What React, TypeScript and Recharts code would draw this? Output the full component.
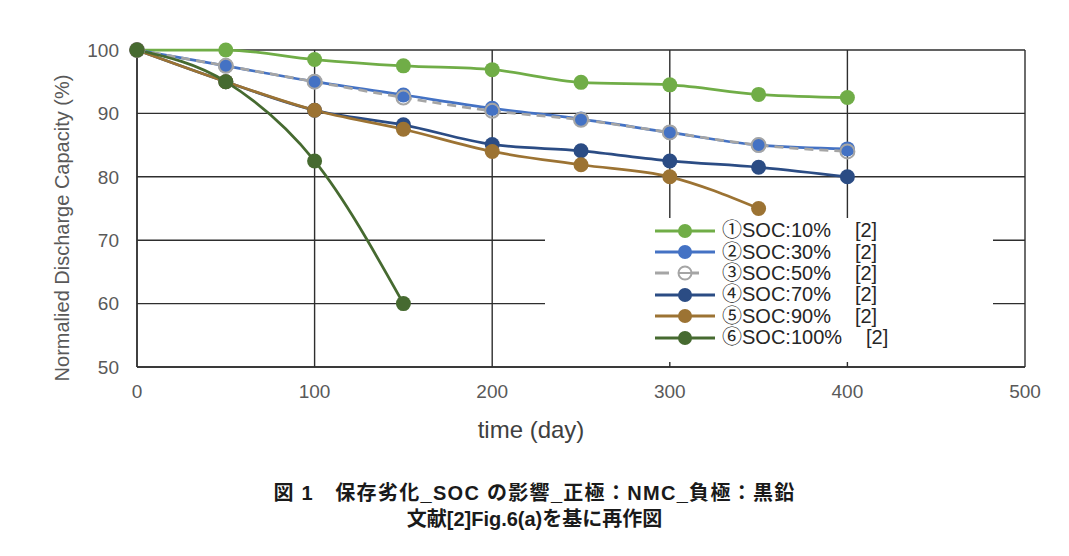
import React from "react";
import { LineChart, Line, XAxis, YAxis, CartesianGrid, Legend } from "recharts";

// days of measurement
const DAYS = [0, 50, 100, 150, 200, 250, 300, 350, 400];

// normalized discharge capacity (%) per SOC
const SOC10 = [100, 100, 98.5, 97.5, 96.9, 94.9, 94.5, 93.0, 92.5];
const SOC30 = [100, 97.5, 95.0, 92.9, 90.8, 89.1, 87.0, 85.0, 84.4];
const SOC50 = [100, 97.5, 95.0, 92.5, 90.4, 89.0, 87.0, 85.0, 84.0];
const SOC70 = [100, 95.0, 90.5, 88.2, 85.1, 84.1, 82.5, 81.5, 80.0];
const SOC90 = [100, 95.0, 90.5, 87.5, 84.0, 81.9, 80.0, 75.0];
const SOC100 = [100, 95.0, 82.5, 60.0];

const X_TICKS = [0, 100, 200, 300, 400, 500];
const Y_TICKS = [50, 60, 70, 80, 90, 100];

const SERIES = [
  { key: "s1", name: "①SOC:10%", values: SOC10, color: "#70ad47", dash: undefined, hollow: false },
  { key: "s2", name: "②SOC:30%", values: SOC30, color: "#4472c4", dash: undefined, hollow: false },
  { key: "s3", name: "③SOC:50%", values: SOC50, color: "#a5a5a5", dash: "9 6", hollow: true },
  { key: "s4", name: "④SOC:70%", values: SOC70, color: "#2b4c84", dash: undefined, hollow: false },
  { key: "s5", name: "⑤SOC:90%", values: SOC90, color: "#9c7333", dash: undefined, hollow: false },
  { key: "s6", name: "⑥SOC:100%", values: SOC100, color: "#466a30", dash: undefined, hollow: false },
];

const data = DAYS.map((d, i) => {
  const row: Record<string, number | undefined> = { day: d };
  SERIES.forEach((s) => { row[s.key] = s.values[i]; });
  return row;
});

const FONT = "'Liberation Sans', Arial, 'Noto Sans CJK JP', sans-serif";

function LegendBox() {
  return (
    <div style={{
      background: "#fff", width: 448, height: 144, boxSizing: "border-box",
      paddingLeft: 110, paddingTop: 2, fontFamily: FONT, fontSize: 20, color: "#262626",
    }}>
      {SERIES.map((s) => (
        <div key={s.key} style={{ display: "flex", alignItems: "center", height: 21.4 }}>
          <svg width={62} height={20} style={{ flexShrink: 0 }}>
            <line x1={0} y1={10} x2={60} y2={10} stroke={s.color} strokeWidth={3} strokeDasharray={s.dash ? "14 16" : undefined} />
            {s.hollow
              ? <circle cx={30} cy={10} r={6.5} fill="#fff" stroke={s.color} strokeWidth={2} />
              : <circle cx={30} cy={10} r={7} fill={s.color} />}
            {s.hollow && <line x1={24} y1={10} x2={36} y2={10} stroke={s.color} strokeWidth={2} />}
          </svg>
          <span style={{ marginLeft: 5, whiteSpace: "pre", lineHeight: "21px" }}>{s.name}</span>
          <span style={{ marginLeft: 24, lineHeight: "21px" }}>[2]</span>
        </div>
      ))}
    </div>
  );
}

export default function App() {
  return (
    <div style={{ position: "absolute", left: 0, top: 0, width: 1069, height: 556, background: "#fff", fontFamily: FONT }}>
      <LineChart width={1069} height={470} data={data} margin={{ top: 50, right: 44, left: 0, bottom: 0 }}>
        <CartesianGrid stroke="#2e2e2e" strokeWidth={1.4} />
        <XAxis
          dataKey="day" type="number" domain={[0, 500]} ticks={X_TICKS}
          height={103} tickSize={0} tickMargin={18}
          axisLine={{ stroke: "#2e2e2e", strokeWidth: 1.4 }}
          tick={{ fill: "#595959", fontSize: 19, fontFamily: FONT }}
          label={{
            content: () => (
              <text x={531} y={438} textAnchor="middle" fill="#404040" fontSize={24} fontFamily={FONT}>time (day)</text>
            ),
          }}
        />
        <YAxis
          type="number" domain={[50, 100]} ticks={Y_TICKS} width={137}
          tickSize={0} tickMargin={18}
          axisLine={{ stroke: "#2e2e2e", strokeWidth: 1.4 }}
          tick={{ fill: "#595959", fontSize: 19, fontFamily: FONT }}
          label={{
            content: () => (
              <text x={69} y={228} transform="rotate(-90 69 228)" textAnchor="middle" fill="#595959" fontSize={20} fontFamily={FONT}>
                Normalied Discharge Capacity (%)
              </text>
            ),
          }}
        />
        <Legend
          align="center" verticalAlign="middle"
          wrapperStyle={{ left: 545, top: 218, width: 448, height: 144 }}
          content={() => <LegendBox />}
        />
        {SERIES.map((s) => (
          <Line
            key={s.key} dataKey={s.key} name={s.name} type="monotone"
            stroke={s.color} strokeWidth={2.75} strokeDasharray={s.dash}
            dot={s.hollow
              ? { r: 7, fill: "none", stroke: s.color, strokeWidth: 2, strokeDasharray: "" }
              : { r: 7.5, fill: s.color, stroke: "none" }}
            activeDot={false} isAnimationActive={false}
          />
        ))}
      </LineChart>
      <div style={{
        position: "absolute", left: 0, top: 480, width: 1069, textAlign: "center",
        fontFamily: "'Liberation Sans', 'Noto Sans CJK JP', sans-serif", fontWeight: 700, fontSize: 20, lineHeight: "26px", color: "#1a1a1a",
      }}>
        <div style={{ letterSpacing: 1.3 }}>図 1　保存劣化_SOC の影響_正極：NMC_負極：黒鉛</div>
        <div>文献[2]Fig.6(a)を基に再作図</div>
      </div>
    </div>
  );
}
